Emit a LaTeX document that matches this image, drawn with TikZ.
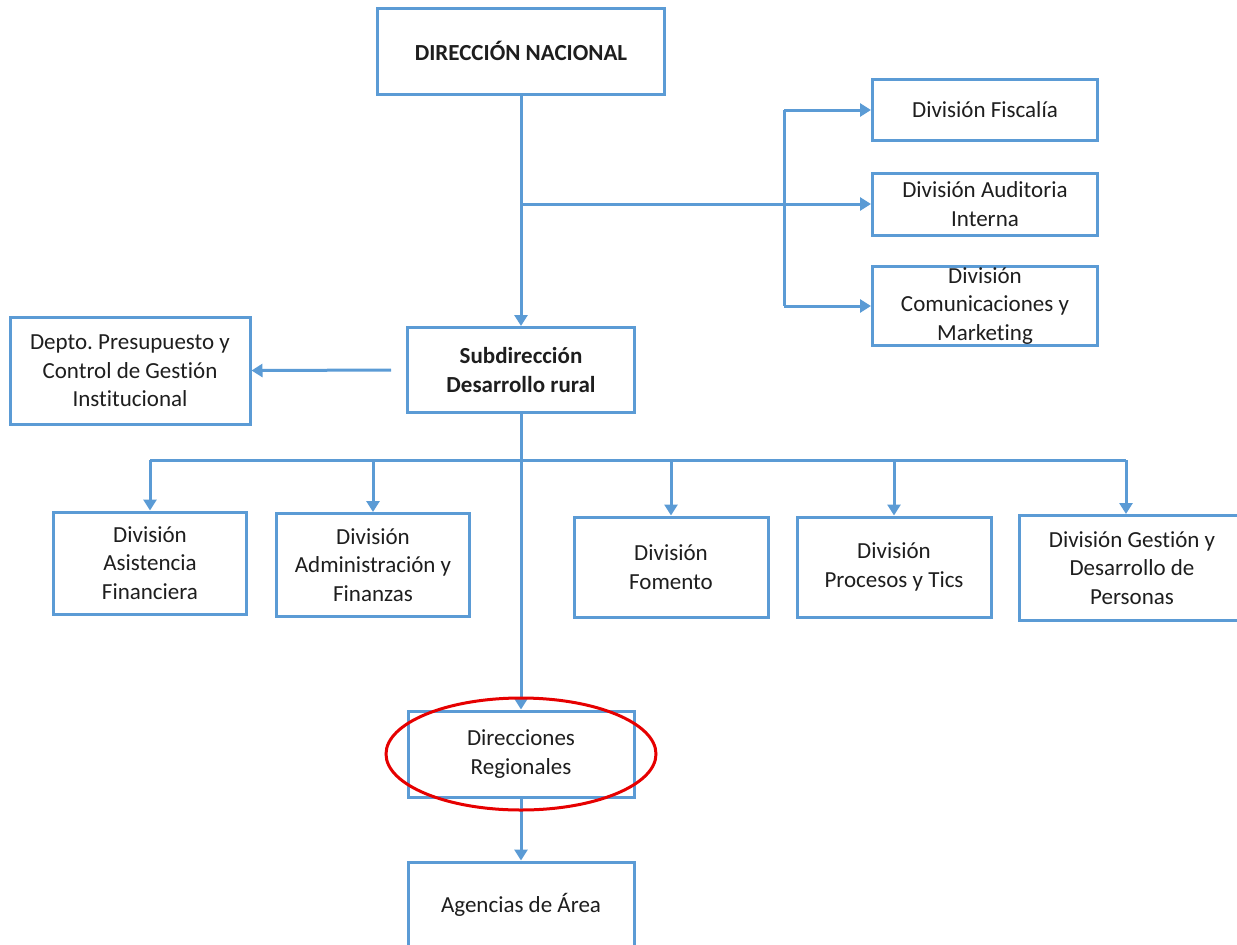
\documentclass[tikz,border=0pt]{standalone}
\usepackage{fontspec}
\setmainfont{Carlito}[Ligatures=NoCommon]
\usetikzlibrary{arrows.meta}
\definecolor{lineblue}{RGB}{91,155,213}
\definecolor{boxtext}{RGB}{30,30,30}
\definecolor{markred}{RGB}{230,0,0}
\frenchspacing

\begin{document}
\begin{tikzpicture}[x=1pt, y=-1pt,
    box/.style={draw=lineblue, line width=3pt, fill=white, align=center,
      inner sep=0pt, text=boxtext, font=\fontsize{23}{28.5}\selectfont},
    line/.style={draw=lineblue, line width=3pt},
    link/.style={line, -{Triangle[width=13pt,length=11pt]}}]
      \useasboundingbox (0,0) rectangle (1237,945);
      \node[box, minimum width=287pt, minimum height=86pt, font=\fontsize{23}{28.5}\selectfont\bfseries]
        (dn) at (521,51) {DIRECCIÓN NACIONAL};
      \node[box, minimum width=225pt, minimum height=61pt] (fis) at (985,110) {División Fiscalía};
      \node[box, minimum width=225pt, minimum height=62pt] (aud) at (985,204) {División Auditoria\\Interna};
      \node[box, minimum width=225pt, minimum height=79pt] (com) at (985,306) {División\\Comunicaciones y\\Marketing};
      \node[box, minimum width=227pt, minimum height=85pt, font=\fontsize{23}{28.5}\selectfont\bfseries]
        (sub) at (521,370) {Subdirección\\Desarrollo rural};
      \node[box, minimum width=240pt, minimum height=107pt] (dep) at (130,371) {Depto.\ Presupuesto y\\Control de Gestión\\Institucional};
      \node[box, minimum width=193pt, minimum height=102pt] (asi) at (150,563) {División\\Asistencia\\Financiera};
      \node[box, minimum width=193pt, minimum height=103pt] (adm) at (373,565) {División\\Administración y\\Finanzas};
      \node[box, minimum width=194pt, minimum height=100pt] (fom) at (671,567) {División\\Fomento};
      \node[box, minimum width=194pt, minimum height=100pt] (pro) at (894,567) {División\\Procesos y Tics};
      \node[box, minimum width=225pt, minimum height=105pt] (ges) at (1132,568) {División Gestión y\\Desarrollo de\\Personas};
      \node[box, minimum width=226pt, minimum height=86pt] (dir) at (521,754) {Direcciones\\Regionales};
      \node[box, minimum width=226pt, minimum height=86pt] (age) at (521,905) {Agencias de Área};
      % upper branch
      \coordinate (tap)  at (521,204);
      \coordinate (rail) at (784,204);
      \draw[link] (dn) -- (sub);
      \draw[link] (tap) -- (aud);
      \draw[line] (rail |- fis) -- (rail |- com);
      \draw[link] (rail |- fis) -- (fis);
      \draw[link] (rail |- com) -- (com);
      \draw[link] ([xshift=-15pt]sub.west) -- (dep);
      % divisions
      \coordinate (bus) at (521,460);
      \draw[line] (sub) -- (bus);
      \draw[line] (asi |- bus) -- ([xshift=-6pt]ges |- bus);
      \foreach \n in {asi,adm,fom,pro} \draw[link] (\n |- bus) -- (\n);
      \draw[link] ([xshift=-6pt]ges |- bus) -- ([xshift=-6pt]ges.north);
      \draw[link] (bus) -- (dir);
      \draw[link] (dir) -- (age);
      % mark
      \draw[markred, line width=3pt] (dir.center) ellipse (135pt and 56pt);
\end{tikzpicture}
\end{document}
